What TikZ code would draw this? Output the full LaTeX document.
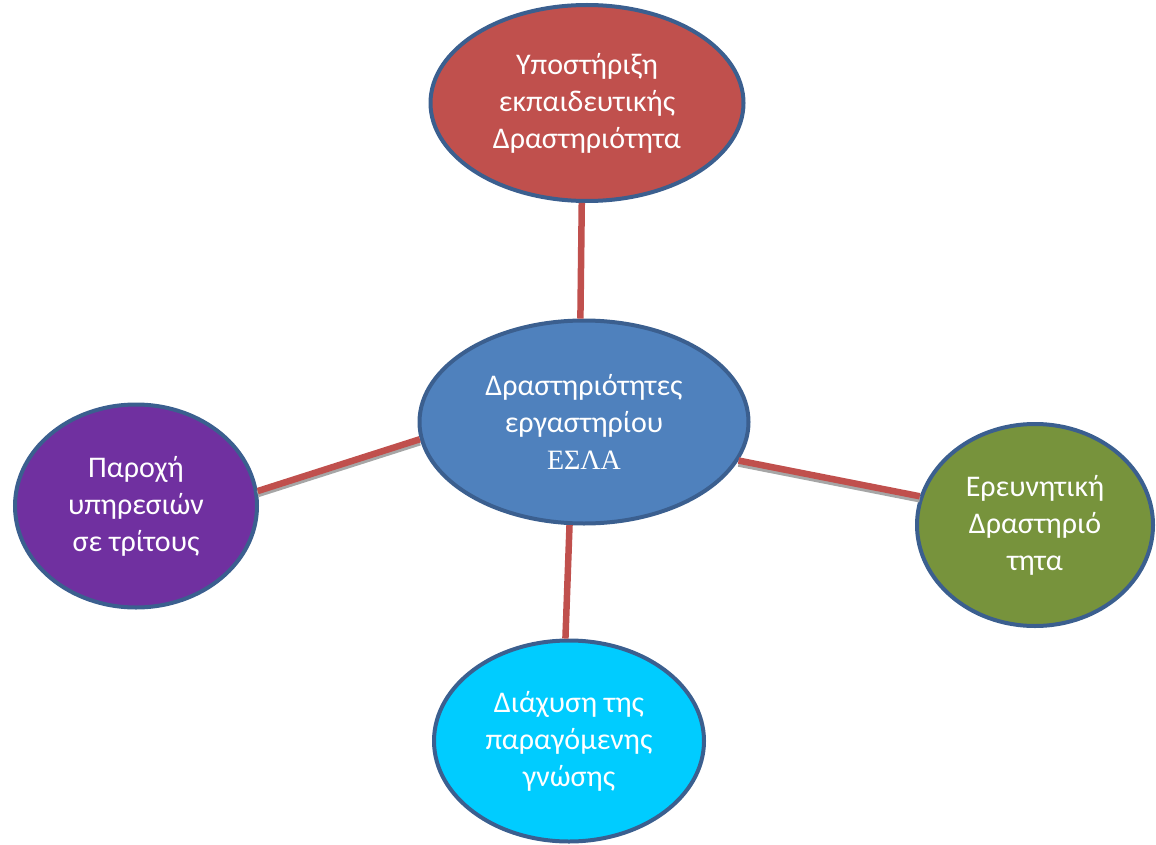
\documentclass[tikz,border=0pt]{standalone}
\usepackage{fontspec}
\setmainfont{Carlito}
\newfontfamily\grserif{Liberation Serif}
\usetikzlibrary{shapes.geometric}
\definecolor{rimblue}{HTML}{3B5F8F}
\definecolor{linkred}{HTML}{C0504D}
\definecolor{topred}{HTML}{C0504D}
\definecolor{midblue}{HTML}{4F81BD}
\definecolor{leftviolet}{HTML}{7030A0}
\definecolor{rightgreen}{HTML}{77933C}
\definecolor{bottomcyan}{HTML}{00CCFF}
\tikzset{
  bubble/.style={ellipse, draw=rimblue, line width=4pt, inner sep=0pt,
    text=white, align=center, font=\fontsize{30}{37}\selectfont},
  link/.style={draw=linkred, line width=6.5pt},
  linkshadow/.style={draw=gray!70, line width=6.5pt}
}
\begin{document}
\begin{tikzpicture}[x=1pt,y=-1pt]
      \useasboundingbox (0,0) rectangle (1156,845);
      \draw
        (587,103) node[bubble, fill=topred, minimum width=313, minimum height=196] (top){Υποστήριξη\\εκπαιδευτικής\\Δραστηριότητα}
        (584,422) node[bubble, fill=midblue, minimum width=329, minimum height=203] (mid){Δραστηριότητες\\εργαστηρίου\\{\grserif\fontsize{28}{37}\selectfont ΕΣΛΑ}}
        (136,506) node[bubble, fill=leftviolet, minimum width=242, minimum height=203] (left){Παροχή\\υπηρεσιών\\σε τρίτους}
        (1035,525) node[bubble, fill=rightgreen, minimum width=236, minimum height=202] (right){Ερευνητική\\Δραστηριό\\τητα}
        (569,741) node[bubble, fill=bottomcyan, minimum width=270, minimum height=201] (bottom){Διάχυση της\\παραγόμενης\\γνώσης};
      \begin{scope}[-]
        \draw[linkshadow] ([yshift=-3]mid.186.6) to ([yshift=-3]left.7.8);
        \draw[linkshadow] ([yshift=-3]mid.-14) to ([yshift=-3]right.166);
        \draw[link] (mid.92) to (top.267.7);
        \draw[link] (mid.186.6) to (left.7.8);
        \draw[link] (mid.-14) to (right.166);
        \draw[link] (mid.262.4) to (bottom.92);
      \end{scope}
    \end{tikzpicture}
\end{document}
